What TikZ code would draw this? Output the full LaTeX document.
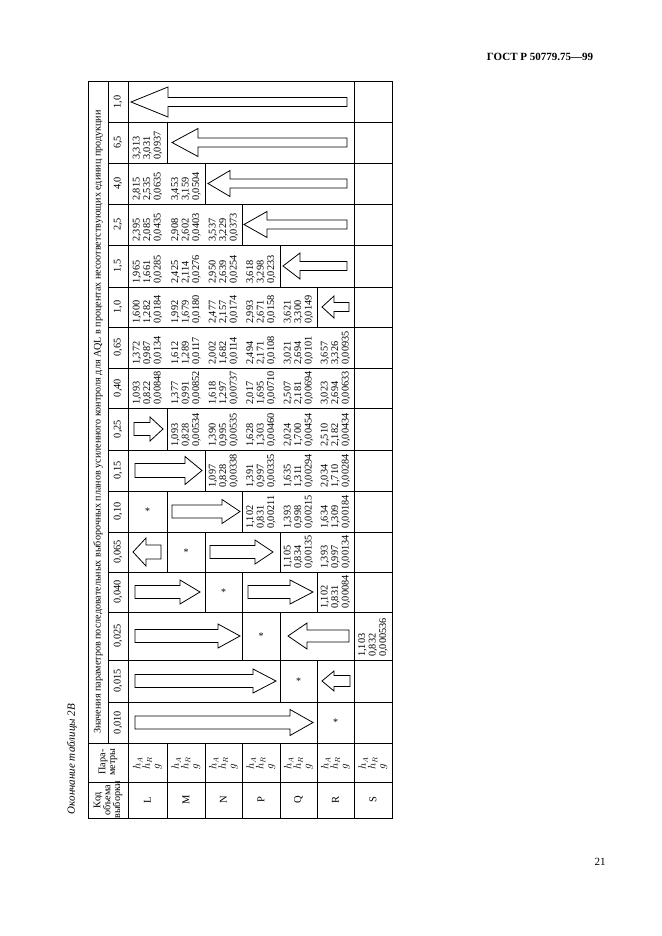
\documentclass[tikz,border=0pt]{standalone}
\usepackage{fontspec}
\setmainfont{Liberation Serif}
\newcommand\blkarrow[6]{% tip, base, end, cy, head half-height, shaft half-width
  \draw[blk] (#1,#4) -- (#2,#4-#5) -- (#2,#4-#6) -- (#3,#4-#6) -- (#3,#4+#6) -- (#2,#4+#6) -- (#2,#4+#5) -- cycle;}
\newcommand\dv[6]{\node[val] (#1) at (#2,#3-3) {#4\\#5\\#6};}
\newcommand\aq[3]{\node[aql] (#1) at (118,#2) {#3};}
\begin{document}
\begin{tikzpicture}[x=1pt,y=-1pt,line join=miter,
  gridl/.style={line width=0.75pt,black},
  blk/.style={draw,line width=0.8pt,fill=white},
  rt/.style={rotate=90,inner sep=0pt},
  val/.style={rt,anchor=west,align=left,font=\fontsize{10.3}{10.4}\selectfont},
  aql/.style={rt,anchor=center,font=\fontsize{10.3}{10}\selectfont},
  hdr/.style={rt,anchor=center,align=center,font=\fontsize{10.2}{9.8}\selectfont},
  par/.style={rt,anchor=west,align=left,font=\fontsize{10.6}{9.5}\selectfont\itshape},
  star/.style={inner sep=0pt,font=\fontsize{10}{10}\selectfont}]
\useasboundingbox (0,0) rectangle (661,936);
\fill[white] (0,0) rectangle (661,936);

% page texts
\node[inner sep=0pt,font=\fontsize{11}{12}\selectfont\bfseries] (gost) at (540,57) {ГОСТ Р 50779.75—99};
\node[inner sep=0pt,font=\fontsize{11}{12}\selectfont] (pg) at (600,862) {21};
\node[rt,font=\fontsize{11}{12}\selectfont\itshape] (cap) at (72,759) {Окончание таблицы 2В};

% grid
\draw[gridl,line width=1pt] (88,82) rectangle (392,818);
\draw[gridl] (108,82) -- (108,743);
\draw[gridl] (128,82) -- (128,818);
\draw[gridl] (354,82) -- (354,818);
\foreach \yy in {122,163,204,245,287,327,368,408,450,491,532,572,612,660,702}
  \draw[gridl] (108,\yy) -- (392,\yy);
\draw[gridl] (88,743) -- (392,743);
\draw[gridl] (88,782) -- (392,782);
\foreach \xx in {167,205,242,280,317}
  \draw[gridl] (\xx,743) -- (\xx,818);
% staircase
\draw[gridl] (167,491) -- (167,572) (167,408) -- (167,450) (167,122) -- (167,163);
\draw[gridl] (205,532) -- (205,612) (205,450) -- (205,491) (205,163) -- (205,204);
\draw[gridl] (242,572) -- (242,660) (242,491) -- (242,532) (242,204) -- (242,245);
\draw[gridl] (280,612) -- (280,702) (280,532) -- (280,572) (280,245) -- (280,287);
\draw[gridl] (317,660) -- (317,743) (317,572) -- (317,612) (317,287) -- (317,327);

% headers
\node[rt,font=\fontsize{10.1}{12}\selectfont] (title) at (98,422) {Значения параметров последовательных выборочных планов усиленного контроля для AQL в процентах несоответствующих единиц продукции};
\node[hdr] (kod) at (108,800) {Код\\объема\\выборки};
\node[hdr] (para) at (108,762) {Пара-\\метры};
\aq{a1}{102}{1,0}
\aq{a2}{142.5}{6,5}
\aq{a3}{183.5}{4,0}
\aq{a4}{224.5}{2,5}
\aq{a5}{266}{1,5}
\aq{a6}{307}{1,0}
\aq{a7}{347.5}{0,65}
\aq{a8}{388}{0,40}
\aq{a9}{429}{0,25}
\aq{a10}{470.5}{0,15}
\aq{a11}{511.5}{0,10}
\aq{a12}{552}{0,065}
\aq{a13}{592}{0,040}
\aq{a14}{636}{0,025}
\aq{a15}{681}{0,015}
\aq{a16}{722.5}{0,010}
\foreach \nm/\cx in {L/147.5, M/186, N/223.5, P/261, Q/298.5, R/335.5, S/373}{
  \node[rt,font=\fontsize{10.5}{10}\selectfont] (r\nm) at (\cx,800) {\nm};
  \node[par] (p\nm) at (\cx,770) {$h_A$\\$h_R$\\$g$};
}

% stars
\node[star] (sL) at (147.5,511.5) {*};
\node[star] (sM) at (186,552) {*};
\node[star] (sN) at (223.5,592) {*};
\node[star] (sP) at (261,636) {*};
\node[star] (sQ) at (298.5,681) {*};
\node[star] (sR) at (335.5,722.5) {*};

% left-pointing arrows
\blkarrow{131}{168}{347}{102}{15}{4.5}
\blkarrow{172}{198}{347}{142.5}{14}{4.5}
\blkarrow{208}{230}{347}{183.5}{13}{4.5}
\blkarrow{244}{267}{347}{224.5}{13}{4.5}
\blkarrow{283}{300}{347}{266}{13}{4.5}
\blkarrow{322}{334}{349}{307}{11}{4.5}
\blkarrow{133}{146}{161}{552}{14}{7}
\blkarrow{288}{307}{349}{636}{13}{6}
\blkarrow{322}{334}{350}{681}{10}{5.5}
% right-pointing arrows
\blkarrow{313}{290}{135}{722.5}{13}{6.5}
\blkarrow{276}{253}{135}{681}{12}{6.5}
\blkarrow{240}{218}{135}{636}{12}{6.5}
\blkarrow{200}{180}{135}{592}{12}{6.5}
\blkarrow{313}{290}{248}{592}{12}{6.5}
\blkarrow{273}{255}{210}{552}{12}{6.5}
\blkarrow{240}{222}{172}{511.5}{12}{6.5}
\blkarrow{202}{185}{135}{470.5}{14}{7}
\blkarrow{163}{150}{134}{429}{12}{6.5}

% values
\dv{vL1}{147.5}{163}{3,313}{3,031}{0,0937}
\dv{vL2}{147.5}{204}{2,815}{2,535}{0,0635}
\dv{vL3}{147.5}{245}{2,395}{2,085}{0,0435}
\dv{vL4}{147.5}{287}{1,965}{1,661}{0,0285}
\dv{vL5}{147.5}{327}{1,600}{1,282}{0,0184}
\dv{vL6}{147.5}{368}{1,372}{0,987}{0,0134}
\dv{vL7}{147.5}{408}{1,093}{0,822}{0,00848}
\dv{vM1}{186}{204}{3,453}{3,159}{0,0504}
\dv{vM2}{186}{245}{2,908}{2,602}{0,0403}
\dv{vM3}{186}{287}{2,425}{2,114}{0,0276}
\dv{vM4}{186}{327}{1,992}{1,679}{0,0180}
\dv{vM5}{186}{368}{1,612}{1,289}{0,0117}
\dv{vM6}{186}{408}{1,377}{0,991}{0,00852}
\dv{vM7}{186}{450}{1,093}{0,828}{0,00534}
\dv{vN1}{223.5}{245}{3,537}{3,229}{0,0373}
\dv{vN2}{223.5}{287}{2,950}{2,639}{0,0254}
\dv{vN3}{223.5}{327}{2,477}{2,157}{0,0174}
\dv{vN4}{223.5}{368}{2,002}{1,682}{0,0114}
\dv{vN5}{223.5}{408}{1,618}{1,297}{0,00737}
\dv{vN6}{223.5}{450}{1,390}{0,995}{0,00535}
\dv{vN7}{223.5}{491}{1,097}{0,828}{0,00338}
\dv{vP1}{261}{287}{3,618}{3,298}{0,0233}
\dv{vP2}{261}{327}{2,993}{2,671}{0,0158}
\dv{vP3}{261}{368}{2,494}{2,171}{0,0108}
\dv{vP4}{261}{408}{2,017}{1,695}{0,00710}
\dv{vP5}{261}{450}{1,628}{1,303}{0,00460}
\dv{vP6}{261}{491}{1,391}{0,997}{0,00335}
\dv{vP7}{261}{532}{1,102}{0,831}{0,00211}
\dv{vQ1}{298.5}{327}{3,621}{3,300}{0,0149}
\dv{vQ2}{298.5}{368}{3,021}{2,694}{0,0101}
\dv{vQ3}{298.5}{408}{2,507}{2,181}{0,00694}
\dv{vQ4}{298.5}{450}{2,024}{1,700}{0,00454}
\dv{vQ5}{298.5}{491}{1,635}{1,311}{0,00294}
\dv{vQ6}{298.5}{532}{1,393}{0,998}{0,00215}
\dv{vQ7}{298.5}{572}{1,105}{0,834}{0,00135}
\dv{vR1}{335.5}{368}{3,657}{3,326}{0,00935}
\dv{vR2}{335.5}{408}{3,023}{2,694}{0,00633}
\dv{vR3}{335.5}{450}{2,510}{2,182}{0,00434}
\dv{vR4}{335.5}{491}{2,034}{1,710}{0,00284}
\dv{vR5}{335.5}{532}{1,634}{1,309}{0,00184}
\dv{vR6}{335.5}{572}{1,393}{0,997}{0,00134}
\dv{vR7}{335.5}{612}{1,102}{0,831}{0,00084}
\dv{vS1}{373}{660}{1,103}{0,832}{0,000536}
\end{tikzpicture}
\end{document}
